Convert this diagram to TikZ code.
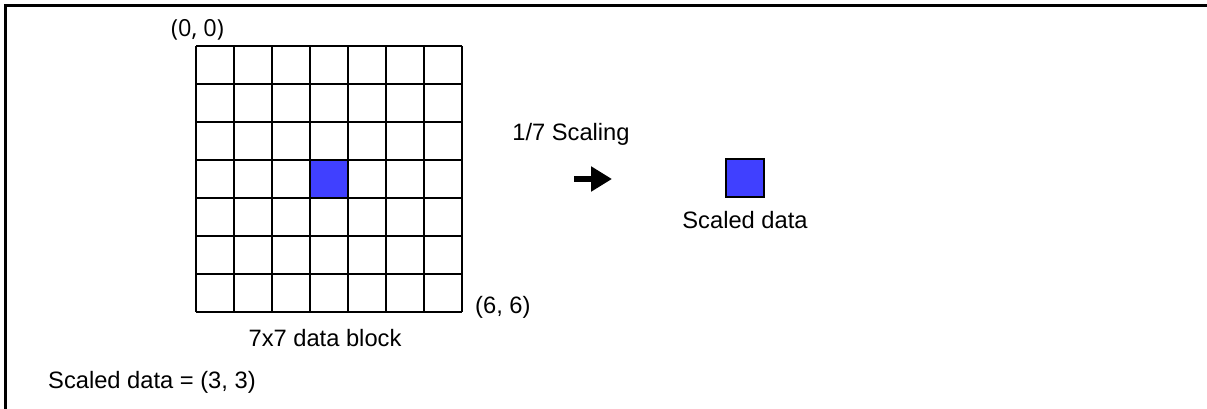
\documentclass[tikz,border=0pt]{standalone}
\usepackage{fontspec}
\setmainfont{Liberation Sans}
\newfontfamily\cornerfont{Open Sans}
\usetikzlibrary{arrows.meta}
\definecolor{cellblue}{RGB}{64,64,255}
\tikzset{
	txt/.style={inner sep=0pt, font=\fontsize{23.7}{28}\selectfont},
	gridline/.style={line width=1.3pt},
	datacell/.style={draw, line width=1.3pt, fill=cellblue, minimum size=38pt, inner sep=0pt}
}
\begin{document}
\begin{tikzpicture}[x=1pt,y=-1pt]
	\useasboundingbox (0,0) rectangle (1207,409);
	\draw[line width=2.7pt] (5.5,409) -- (5.5,5.3) -- (1207,5.3);
	\foreach \i in {0,...,7} {
		\draw[gridline] (196+38*\i,46) -- (196+38*\i,312);
		\draw[gridline] (196,46+38*\i) -- (462,46+38*\i);
	}
	\node[datacell] (center) at (329,179) {};
	\node[datacell] (scaled) at (745,178) {};
	\coordinate (tail) at (574,179);
	\coordinate (tip) at (612,179);
	\draw[line width=6pt, -{Triangle[length=21pt,width=24pt]}] (tail) -- (tip);
	\node[anchor=base, inner sep=0pt, font=\cornerfont\fontsize{23.5}{28}\selectfont] (origin) at (197.5,37) {(0, 0)};
	\node[txt, anchor=base west] (last) at (475,313) {(6, 6)};
	\node[txt, anchor=base] (block) at (325,346) {7x7 data block};
	\node[txt, anchor=base] (ratio) at (571,141) {1/7 Scaling};
	\node[txt, anchor=base] (scaledname) at (745,228) {Scaled data};
	\node[txt, anchor=base west] (result) at (48,388) {Scaled data = (3, 3)};
\end{tikzpicture}
\end{document}
